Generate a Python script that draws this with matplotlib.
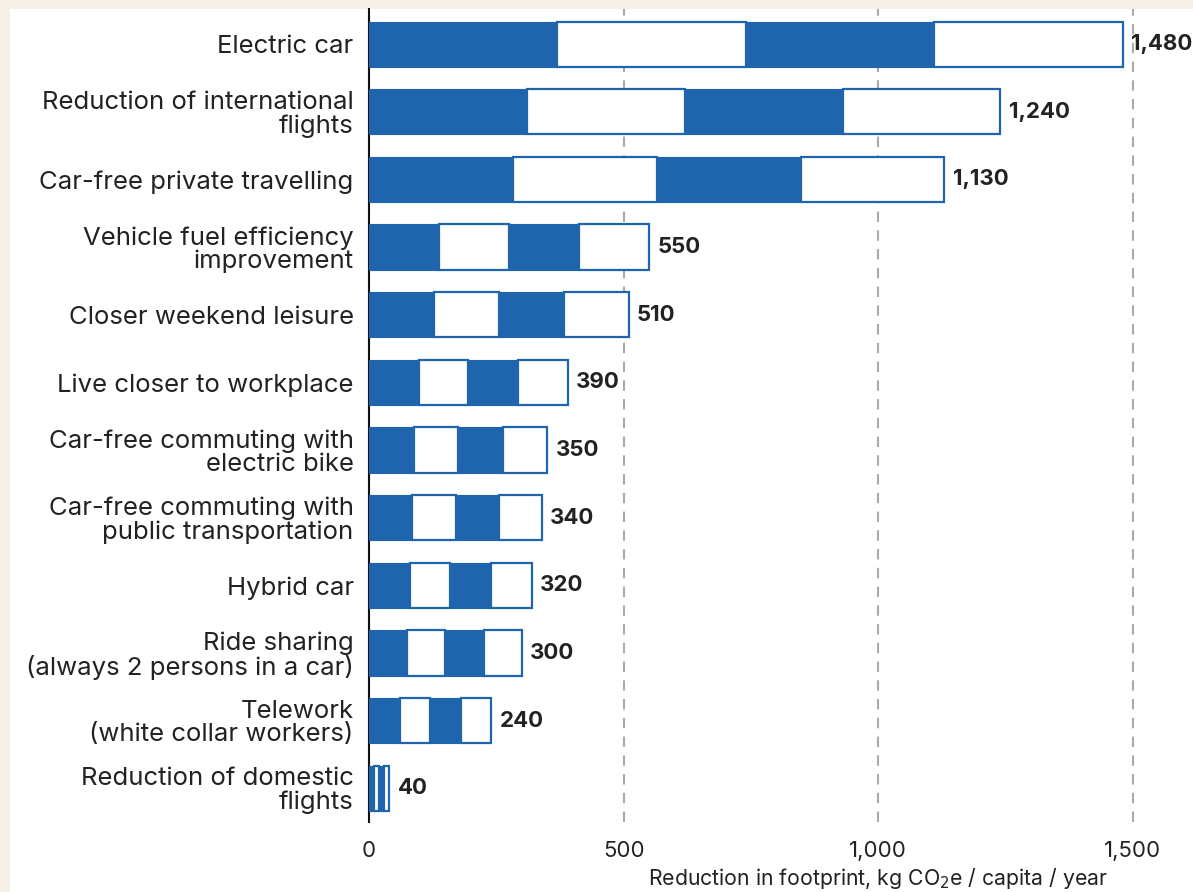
import matplotlib
matplotlib.use('Agg')
import matplotlib.pyplot as plt
from matplotlib.patches import Rectangle

# 数据
labels = ['Electric car', 'Reduction of international\nflights', 'Car-free private travelling',
          'Vehicle fuel efficiency\nimprovement', 'Closer weekend leisure', 'Live closer to workplace',
          'Car-free commuting with\nelectric bike', 'Car-free commuting with\npublic transportation',
          'Hybrid car', 'Ride sharing\n(always 2 persons in a car)', 'Telework\n(white collar workers)',
          'Reduction of domestic\nflights']
values = [1480, 1240, 1130, 550, 510, 390, 350, 340, 320, 300, 240, 40]
xticks = [0, 500, 1000, 1500]
xtick_labels = ['0', '500', '1,000', '1,500']

blue = '#1f65ad'
cream = '#f6f0e6'
plt.rcParams['font.family'] = ['Inter', 'DejaVu Sans']

fig = plt.figure(figsize=(11.93, 8.92), dpi=100, facecolor=cream)
# 白色面板
fig.patches.append(Rectangle((10 / 1193, 0), 1, 1 - 9 / 892, transform=fig.transFigure,
                             facecolor='white', edgecolor='none', zorder=-10))

ax = fig.add_axes([369 / 1193, 1 - 822 / 892, 1 - 369 / 1193, (822 - 9) / 892])
ax.set_facecolor('none')

for i, v in enumerate(values):
    w = v / 4
    for k in range(4):
        if k % 2 == 0:
            ax.barh(i, w, left=k * w, height=0.67, color=blue, edgecolor=blue, linewidth=0.8, zorder=3)
        else:
            ax.barh(i, w, left=k * w, height=0.67, color='white', edgecolor=blue, linewidth=1.6, zorder=3)
    ax.text(v + 16, i, f'{v:,}', va='center', ha='left', fontsize=16, fontweight='bold', color='#222222')

ax.set_ylim(11.5, -0.52)
ax.set_xlim(0, 1618)
ax.set_yticks(range(len(labels)))
ax.set_yticklabels(labels, fontsize=18.5, color='#222222', linespacing=1.0)
ax.set_xticks(xticks)
ax.set_xticklabels(xtick_labels, fontsize=16, color='#222222')
ax.tick_params(axis='both', length=0)
ax.tick_params(axis='y', pad=11)
ax.tick_params(axis='x', pad=14)

for s in ['top', 'right', 'bottom']:
    ax.spines[s].set_visible(False)
ax.spines['left'].set_linewidth(1.5)
ax.spines['left'].set_color('#111111')

for x in xticks[1:]:
    ax.axvline(x, color='#aaaaaa', linestyle=(0, (5, 4)), linewidth=1.5, zorder=1)

fig.text(1108 / 1193, 1 - 891 / 892, 'Reduction in footprint, kg CO$_2$e / capita / year',
         ha='right', va='bottom', fontsize=15.3, color='#222222')

fig.savefig('out.png', dpi=100, facecolor=cream)
